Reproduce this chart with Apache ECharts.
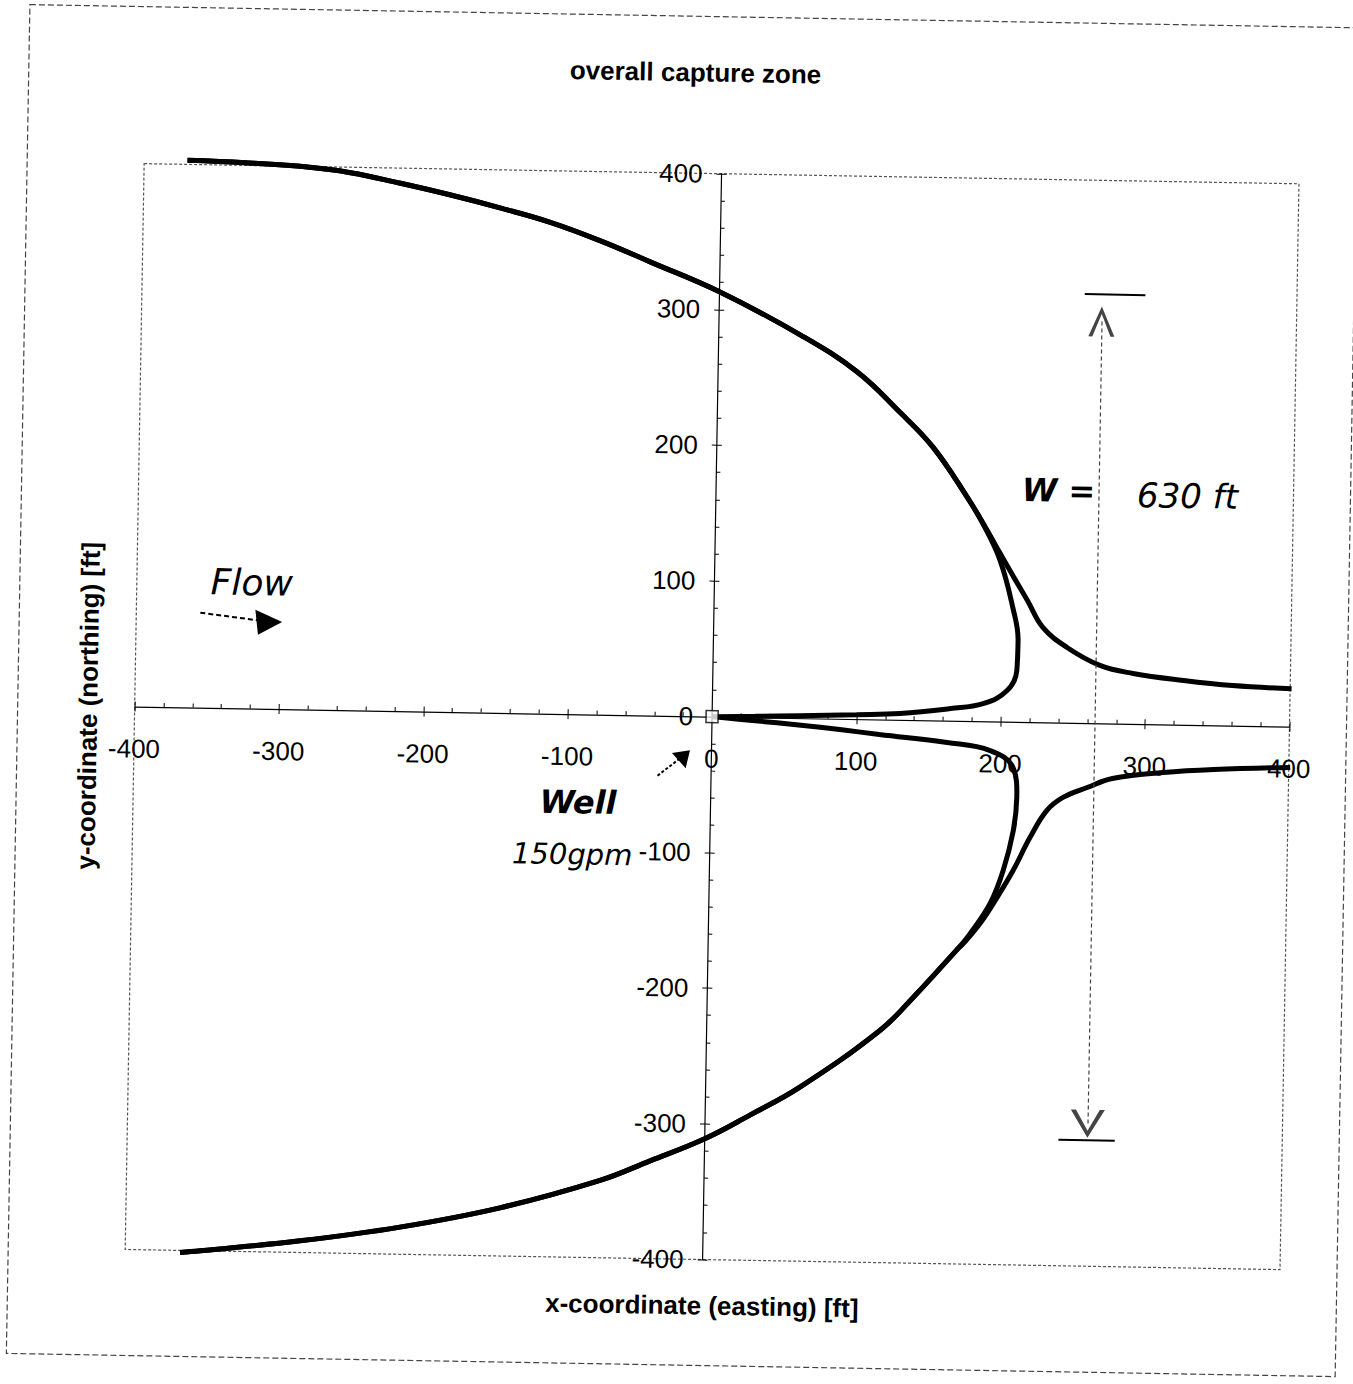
<!DOCTYPE html>
<html><head><meta charset="utf-8">
<script src="https://cdn.jsdelivr.net/npm/echarts@6/dist/echarts.min.js"></script>
<style>
html,body{margin:0;padding:0;background:#fff;overflow:hidden;}
#chart{width:1353px;height:1384px;transform:rotate(1deg);transform-origin:676px 692px;background:#fff;}
</style></head><body><div id="chart"></div>
<script>
// ---- texts ----
const titleText = 'overall capture zone';
const xAxisName = 'x-coordinate (easting) [ft]';
const yAxisName = 'y-coordinate (northing) [ft]';
const noteFlow = 'Flow';
const noteWell = 'Well';
const noteRate = '150gpm';
const noteWidthLabel = 'W =';
const noteWidthValue = '630 ft';

// ---- axis range / ticks ----
const axisMin = -400, axisMax = 400, tickStep = 100;

// ---- series values [x, y] in ft ----
const upperCapture = [[-370,403],[-330,402],[-292,400],[-257,396],[-223,389],[-188,381],[-153,372],[-118,362],[-83,349],[-48,334],[0,313],[57,282],[96,256],[127,226],[150,201],[174,165],
  [185,146],[197.5,119],[207,84],[211,60],[210.5,38],[204,23],[187.5,13],[165,9],[130,4.7],[100,3.3],[60,1.8],[30,0.8],[0,0]];
const upperStreamline = [[-370,403],[-330,402],[-292,400],[-257,396],[-223,389],[-188,381],[-153,372],[-118,362],[-83,349],[-48,334],[0,313],[57,282],[96,256],[127,226],[150,201],[174,165],
  [187,143],[197.5,124],[207,107],[217,89.6],[228,70],[245,55.5],[268,42.7],[291,37.2],[326,32.7],[360,29.6],[401,28]];
const lowerCapture = [[0,0],[30,-2.5],[60,-5],[90,-8],[116,-11],[163,-16],[193,-21.4],[209,-33.6],[212,-55.7],[210,-80],[203.4,-109.7],[194.8,-134],[181.3,-156.5],[172,-169],
  [142.5,-204.4],[120,-229],[65,-272],[31,-293],[0,-311],[-37.6,-328],[-72,-343],[-141,-364.5],[-210,-380],[-279,-391.4],[-348,-400],[-362,-401.5]];
const lowerStreamline = [[401,-30],[348,-32.5],[313,-35.4],[278,-40.4],[260.6,-47.4],[244,-55],[233,-64.8],[221.6,-85],[210.3,-109.5],[199.5,-129.6],[188,-149],[176.7,-164],[172,-169],
  [142.5,-204.4],[120,-229],[65,-272],[31,-293],[0,-311],[-37.6,-328],[-72,-343],[-141,-364.5],[-210,-380],[-279,-391.4],[-348,-400],[-362,-401.5]];
const wellLocation = [[0,0]];
// capture width annotation (W = 630 ft)
const widthMarkerX = 265;
const widthTop = 316, widthBottom = -307;
const widthArrowTop = 296, widthArrowBottom = -295;
const widthBarTop = [253, 295], widthBarBottom = [245, 284];

const FONT = 'Liberation Sans';
const HAND = 'DejaVu Sans';
const chevron = 'path://M0,20 L10,0 L20,20 L17,20 L10,5 L3,20 Z';

// grid geometry (pixels)
const G = {left: 135, top: 173, width: 1155, height: 1086};
// axes cross at data zero: move the edge axes onto the zero lines
const xZeroOffset = -(G.height * (0 - axisMin) / (axisMax - axisMin));
const yZeroOffset = -(G.width * (0 - axisMin) / (axisMax - axisMin));

const chart = echarts.init(document.getElementById('chart'), null, {renderer: 'svg'});

function lineSeries(name, data) {
  return {
    name, type: 'line', data, symbol: 'none', showSymbol: false, smooth: 0.4, clip: false,
    lineStyle: {color: '#000', width: 5}, silent: true, z: 3
  };
}

const labelStyle = {color: '#000', fontFamily: FONT, fontSize: 26};
const nameStyle = {fontFamily: FONT, fontSize: 26, fontWeight: 'bold', color: '#000'};
const handStyle = {fontFamily: HAND, fontStyle: 'italic', fill: '#000', align: 'center', verticalAlign: 'middle'};

const option = {
  animation: false,
  backgroundColor: '#fff',
  title: {
    text: titleText, left: 554, top: 54,
    textStyle: {fontFamily: FONT, fontSize: 26, fontWeight: 'bold', color: '#000'}
  },
  grid: {left: G.left, top: G.top, width: G.width, height: G.height, containLabel: false, outerBoundsMode: 'none', show: false},
  xAxis: [{
    type: 'value', min: axisMin, max: axisMax, interval: tickStep, position: 'bottom', offset: xZeroOffset,
    name: xAxisName, nameLocation: 'middle', nameGap: 576, nameMoveOverlap: false, nameTextStyle: nameStyle,
    axisLine: {show: true, onZero: false, lineStyle: {color: '#000', width: 1.2}},
    axisTick: {show: true, inside: true, length: 5, lineStyle: {color: '#000', width: 1}},
    minorTick: {show: true, splitNumber: 5, length: 4, lineStyle: {color: '#000', width: 1}},
    axisLabel: Object.assign({margin: 29, showMinLabel: true, showMaxLabel: true, hideOverlap: false}, labelStyle),
    splitLine: {show: false}, minorSplitLine: {show: false}
  }, {
    type: 'value', min: axisMin, max: axisMax, interval: tickStep, position: 'bottom', offset: xZeroOffset,
    axisLine: {show: false, onZero: false},
    axisTick: {show: true, inside: false, length: 5, lineStyle: {color: '#000', width: 1}},
    axisLabel: {show: false}, splitLine: {show: false}
  }],
  yAxis: [{
    type: 'value', min: axisMin, max: axisMax, interval: tickStep, position: 'left', offset: yZeroOffset,
    name: yAxisName, nameLocation: 'middle', nameGap: 611, nameMoveOverlap: false, nameTextStyle: nameStyle,
    axisLine: {show: true, onZero: false, lineStyle: {color: '#000', width: 1.2}},
    axisTick: {show: true, inside: true, length: 5, lineStyle: {color: '#000', width: 1}},
    minorTick: {show: true, splitNumber: 5, length: 4, lineStyle: {color: '#000', width: 1}},
    axisLabel: Object.assign({margin: 19, showMinLabel: true, showMaxLabel: true, hideOverlap: false}, labelStyle),
    splitLine: {show: false}, minorSplitLine: {show: false}
  }, {
    type: 'value', min: axisMin, max: axisMax, interval: tickStep, position: 'left', offset: yZeroOffset,
    axisLine: {show: false, onZero: false},
    axisTick: {show: true, inside: false, length: 5, lineStyle: {color: '#000', width: 1}},
    axisLabel: {show: false}, splitLine: {show: false}
  }],
  graphic: [
    {type: 'rect', silent: true, z: -1, shape: {x: 18, y: 16, width: 1329, height: 1349},
     style: {fill: 'none', stroke: '#444', lineWidth: 1.2, lineDash: [6, 3]}},
    {type: 'rect', silent: true, z: -1, shape: {x: G.left, y: G.top, width: G.width, height: G.height},
     style: {fill: 'none', stroke: '#555', lineWidth: 1.2, lineDash: [3, 2]}},
    {type: 'text', x: 250, y: 590, silent: true,
     style: Object.assign({text: noteFlow, fontSize: 36}, handStyle)},
    {type: 'line', silent: true, shape: {x1: 199, y1: 621, x2: 260, y2: 628},
     style: {stroke: '#000', lineWidth: 2, lineDash: [5, 3]}},
    {type: 'polygon', silent: true, shape: {points: [[281, 629], [254, 617], [257, 642]]},
     style: {fill: '#000'}},
    {type: 'text', x: 580, y: 804, silent: true,
     style: Object.assign({text: noteWell, fontSize: 32, fontWeight: 'bold'}, handStyle)},
    {type: 'text', x: 575, y: 856, silent: true,
     style: Object.assign({text: noteRate, fontSize: 29}, handStyle)},
    {type: 'line', silent: true, shape: {x1: 659, y1: 776, x2: 684, y2: 756},
     style: {stroke: '#000', lineWidth: 2, lineDash: [3, 2]}},
    {type: 'polygon', silent: true, shape: {points: [[691, 750], [673, 753], [687, 768]]},
     style: {fill: '#000'}},
    {type: 'text', x: 1055, y: 484, silent: true,
     style: Object.assign({text: noteWidthLabel, fontSize: 32, fontWeight: 'bold'}, handStyle)},
    {type: 'text', x: 1184, y: 487, silent: true,
     style: Object.assign({text: noteWidthValue, fontSize: 34}, handStyle)}
  ],
  series: [
    lineSeries('upper capture boundary', upperCapture),
    lineSeries('upper streamline', upperStreamline),
    lineSeries('lower capture boundary', lowerCapture),
    lineSeries('lower streamline', lowerStreamline),
    {
      name: 'well', type: 'scatter', data: wellLocation, symbol: 'rect', symbolSize: 12, z: 10, silent: true,
      itemStyle: {color: '#fff', borderColor: '#000', borderWidth: 1.5},
      markLine: {
        silent: true, animation: false, symbol: ['none', 'none'], label: {show: false},
        lineStyle: {color: '#000', width: 2, type: 'solid'},
        data: [
          [{coord: [widthMarkerX, widthArrowTop], symbol: chevron, symbolSize: [26, 30],
            lineStyle: {color: '#444', width: 1.2, type: [4, 3]}},
           {coord: [widthMarkerX, widthArrowBottom], symbol: chevron, symbolSize: [34, 28]}],
          [{coord: [widthBarTop[0], widthTop], symbol: 'none'}, {coord: [widthBarTop[1], widthTop], symbol: 'none'}],
          [{coord: [widthBarBottom[0], widthBottom], symbol: 'none'}, {coord: [widthBarBottom[1], widthBottom], symbol: 'none'}]
        ]
      }
    }
  ]
};
chart.setOption(option);
</script></body></html>
